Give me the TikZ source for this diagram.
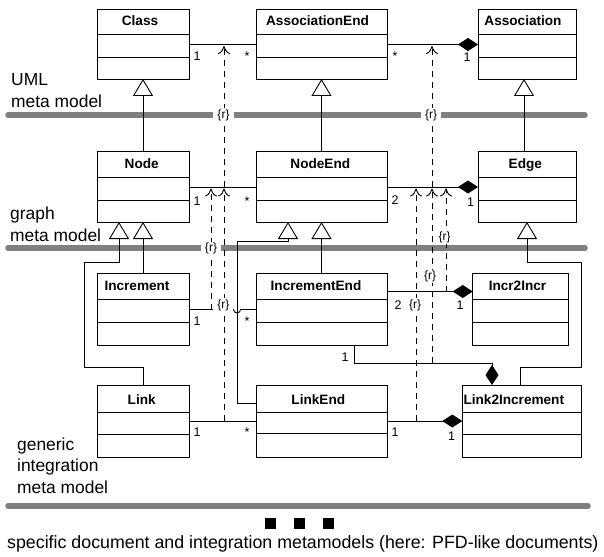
\documentclass[tikz,border=0pt]{standalone}
\usepackage{fontspec}
\setmainfont{Liberation Sans}
\usetikzlibrary{arrows.meta}
\definecolor{bargray}{RGB}{128,128,128}
\tikzset{
  classbox/.style={draw, line width=0.9pt, rectangle, inner sep=0pt, outer sep=0pt},
  cline/.style={line width=0.9pt},
  hdr/.style={font=\bfseries\fontsize{13.6}{16}\selectfont, inner sep=0pt, anchor=base},
  mult/.style={font=\fontsize{12.5}{14}\selectfont, inner sep=0pt, anchor=base},
  layer/.style={font=\fontsize{17.4}{21}\selectfont, inner sep=0pt, anchor=base west},
  footer/.style={font=\fontsize{17.8}{21}\selectfont, inner sep=0pt, anchor=base west},
  rlbl/.style={font=\fontsize{12}{14}\selectfont, fill=white, inner xsep=4pt, inner ysep=1pt},
  bar/.style={line width=5.5pt, line cap=round, draw=bargray},
  gen/.style={cline, -{Triangle[open, length=17pt, width=20pt, fill=white]}},
  comp/.style={cline, -{Diamond[length=20pt, width=13pt]}},
  refine/.style={line width=0.9pt, dash pattern=on 6pt off 5pt, -{Computer Modern Rightarrow[length=8pt, width=12pt]}},
}
% name, x1, y1, x2, y2, y of header line, y of second line, text x, text
\newcommand{\umlclassbox}[9]{%
  \node[classbox, minimum width={(#4-#2)*1pt}, minimum height={(#5-#3)*1pt}] (#1) at ({(#2+#4)/2},{(#3+#5)/2}) {};
  \draw[cline] (#2,#6) -- (#4,#6) (#2,#7) -- (#4,#7);
  \node[hdr] (#1-t) at (#8,{#6-8.3}) {#9};
}
\begin{document}
\begin{tikzpicture}[x=1pt, y=-1pt]
\useasboundingbox (0,0) rectangle (604,556);

% layer bars
\draw[bar] (8,115) -- (585,115);
\draw[bar] (8,248) -- (585,248);
\draw[bar] (8,506) -- (588,506);

% layer labels
\node[layer] (u1) at (11,86) {UML};
\node[layer] (u2) at (11,108) {meta model};
\node[layer] (g1) at (10,219) {graph};
\node[layer] (g2) at (10,241) {meta model};
\node[layer] (i1) at (17,450) {generic};
\node[layer] (i2) at (17,471.7) {integration};
\node[layer] (i3) at (17,493.5) {meta model};

% classes
\umlclassbox{cls}{97}{9}{189}{79}{34}{57}{140}{Class}
\umlclassbox{ae}{256}{9}{387}{79}{34}{57}{317.5}{AssociationEnd}
\umlclassbox{asc}{478}{9}{576}{79}{34}{57}{523}{Association}
\umlclassbox{nd}{97}{151}{189}{222}{177}{200}{141.7}{Node}
\umlclassbox{ne}{256}{151}{387}{222}{177}{200}{320.3}{NodeEnd}
\umlclassbox{ed}{478}{151}{576}{222}{177}{200}{525.3}{Edge}
\umlclassbox{inc}{97}{273}{189}{345}{299}{322}{137}{Increment}
\umlclassbox{ie}{256}{273}{387}{345}{299}{322}{316}{IncrementEnd}
\umlclassbox{ii}{472.7}{273}{568.3}{345}{299}{322}{517.5}{Incr2Incr}
\umlclassbox{lk}{97}{385}{189}{457}{412.7}{434}{141.7}{Link}
\umlclassbox{le}{256}{385}{387}{457}{412.7}{433.5}{318.3}{LinkEnd}
\umlclassbox{l2i}{462.3}{385}{581.7}{457}{412.7}{434}{513.8}{Link2Increment}

% generalizations
\draw[gen] (nd.north) -- (cls.south);
\draw[gen] (ne.north) -- (ae.south);
\draw[gen] (ed.north -| 524,0) -- (asc.south -| 524,0);
\draw[gen] (inc.north) -- (inc.north |- nd.south);
\draw[gen] (lk.north) -- (143,367) -- (84,367) -- (84,262) -- (119,262) -- (nd.south -| 119,0);
\draw[gen] (ie.north) -- (ie.north |- ne.south);
\draw[gen] (le.west |- 0,403) -- (237,403) -- (237,241) -- (288,241) -- (ne.south -| 288,0);
\draw[gen] (l2i.north -| 520.7,0) -- (520.7,367) -- (581.7,367) -- (581.7,262) -- (527,262) -- (ed.south -| 527,0);

% associations
\draw[cline] (cls.east |- 0,44.5) -- (ae.west |- 0,44.5);
\draw[comp] (ae.east |- 0,44.5) -- (asc.west |- 0,44.5);
\draw[cline] (nd.east |- 0,187) -- (ne.west |- 0,187);
\draw[comp] (ne.east |- 0,187) -- (ed.west |- 0,187);
\draw[cline] (inc.east |- 0,309.5) -- (233.5,309.5) arc[start angle=180, end angle=0, radius=3.5] -- (ie.west |- 0,309.5);
\draw[comp] (ie.east |- 0,291.5) -- (ii.west |- 0,291.5);
\draw[comp] (ie.south -| 354,0) -- (354,363.3) -- (492,363.3) -- (l2i.north -| 492,0);
\draw[cline] (lk.east |- 0,421) -- (le.west |- 0,421);
\draw[comp] (le.east |- 0,421) -- (l2i.west |- 0,421);

% multiplicities
\node[mult] (m1) at (197,60.7) {1};
\node[mult] (m2) at (247,60.7) {*};
\node[mult] (m3) at (395,60.7) {*};
\node[mult] (m4) at (467,61.7) {1};
\node[mult] (m5) at (197,205) {1};
\node[mult] (m6) at (247,205) {*};
\node[mult] (m7) at (395,204.5) {2};
\node[mult] (m8) at (470.7,206) {1};
\node[mult] (m9) at (197,325) {1};
\node[mult] (m10) at (247,325) {*};
\node[mult] (m11) at (398,309) {2};
\node[mult] (m12) at (460,309) {1};
\node[mult] (m13) at (345,361) {1};
\node[mult] (m14) at (197,436.7) {1};
\node[mult] (m15) at (247,436.7) {*};
\node[mult] (m16) at (395,436.7) {1};
\node[mult] (m17) at (451.7,440) {1};

% refinement links
\coordinate (t1) at (224,46);
\coordinate (t2) at (432,46);
\coordinate (t3) at (211,188.5);
\coordinate (t4) at (224,188.5);
\coordinate (t5) at (416,188.5);
\coordinate (t6) at (432,188.5);
\coordinate (t7) at (446,188.5);
\coordinate (s1) at (224,187);
\coordinate (s2) at (432,187);
\coordinate (s3) at (211,309.5);
\coordinate (s4) at (224,421);
\coordinate (s5) at (416,421);
\coordinate (s6) at (432,363.3);
\coordinate (s7) at (446,291.5);
\draw[refine] (s1) -- (t1);
\draw[refine] (s2) -- (t2);
\draw[refine] (s3) -- (t3);
\draw[refine] (s4) -- (t4);
\draw[refine] (s5) -- (t5);
\draw[refine] (s6) -- (t6);
\draw[refine] (s7) -- (t7);

% {r} labels
\node[rlbl] (r1) at (223.5,115) {\{r\}};
\node[rlbl] (r2) at (431,115) {\{r\}};
\node[rlbl] (r3) at (211,248.5) {\{r\}};
\node[rlbl] (r4) at (223.3,305) {\{r\}};
\node[rlbl] (r5) at (444.5,237.5) {\{r\}};
\node[rlbl] (r6) at (430,276.5) {\{r\}};
\node[rlbl] (r7) at (415,305) {\{r\}};

% continuation marks and caption
\node[fill=black, minimum size=11pt, inner sep=0pt] (sq1) at (270,523) {};
\node[fill=black, minimum size=11pt, inner sep=0pt] (sq2) at (299,523) {};
\node[fill=black, minimum size=11pt, inner sep=0pt] (sq3) at (328,523) {};
\node[footer] (foot) at (7,548) {specific document and integration metamodels (here: PFD-like documents)};
\end{tikzpicture}
\end{document}
